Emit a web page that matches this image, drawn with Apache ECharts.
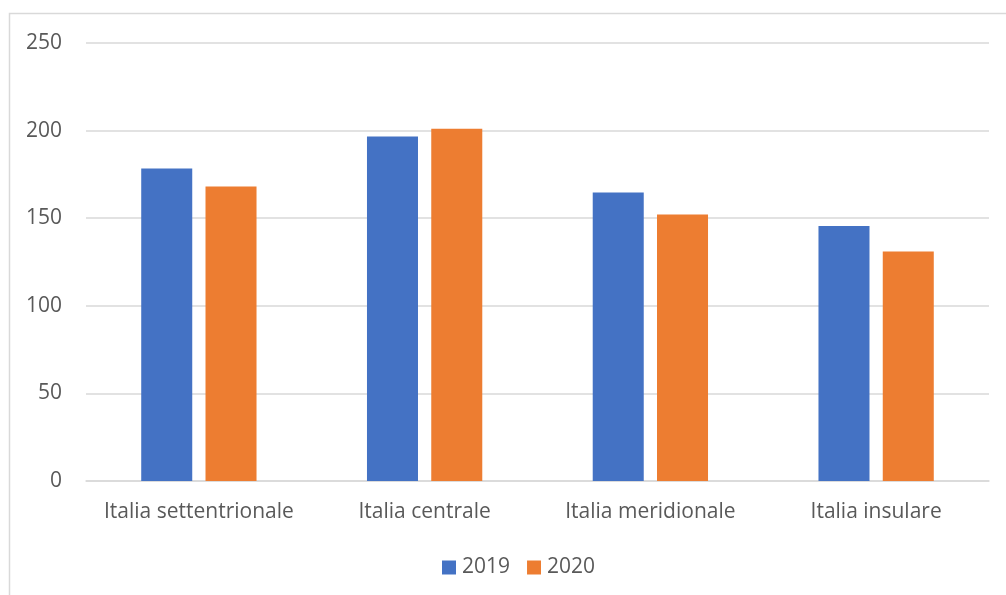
<!DOCTYPE html>
<html>
<head>
<meta charset="utf-8">
<script src="https://cdn.jsdelivr.net/npm/echarts@6/dist/echarts.min.js"></script>
<style>
html,body{margin:0;padding:0;background:#fff;}
#chart{width:1006px;height:595px;}
</style>
</head>
<body>
<div id="chart"></div>
<script>
const categories = ['Italia settentrionale', 'Italia centrale', 'Italia meridionale', 'Italia insulare'];
const seriesNames = ['2019', '2020'];
const values2019 = [178.4, 196.6, 164.7, 145.5];
const values2020 = [168.1, 201.0, 152.1, 131.0];
const colors = ['#4472C4', '#ED7D31'];

const chart = echarts.init(document.getElementById('chart'), null, {renderer: 'canvas'});
const fontFamily = '"Open Sans", "Noto Sans", sans-serif';
chart.setOption({
  animation: false,
  color: colors,
  graphic: [{
    type: 'rect',
    shape: {x: 9.5, y: 13.5, width: 1100, height: 700},
    style: {fill: 'none', stroke: '#d9d9d9', lineWidth: 1.5},
    silent: true
  }],
  grid: {left: 86, right: 17, top: 43, bottom: 114, containLabel: false},
  legend: {
    data: seriesNames,
    bottom: 12,
    left: 437,
    itemWidth: 14,
    itemHeight: 14,
    itemGap: 17,
    icon: 'rect',
    textStyle: {fontFamily: fontFamily, fontSize: 21, color: '#595959', padding: [0, 0, 0, 1]}
  },
  xAxis: {
    type: 'category',
    data: categories,
    axisLine: {lineStyle: {color: '#d9d9d9', width: 1.5}},
    axisTick: {show: false},
    axisLabel: {fontFamily: fontFamily, fontSize: 21, color: '#595959', margin: 21, interval: 0}
  },
  yAxis: {
    type: 'value',
    min: 0,
    max: 250,
    interval: 50,
    axisLine: {show: false},
    axisTick: {show: false},
    splitLine: {lineStyle: {color: '#d9d9d9', width: 1.5}},
    axisLabel: {fontFamily: fontFamily, fontSize: 21, color: '#595959', margin: 24}
  },
  series: [
    {name: seriesNames[0], type: 'bar', data: values2019, barWidth: '22.6%', barGap: '26%'},
    {name: seriesNames[1], type: 'bar', data: values2020, barWidth: '22.6%', barGap: '26%'}
  ]
});
</script>
</body>
</html>
